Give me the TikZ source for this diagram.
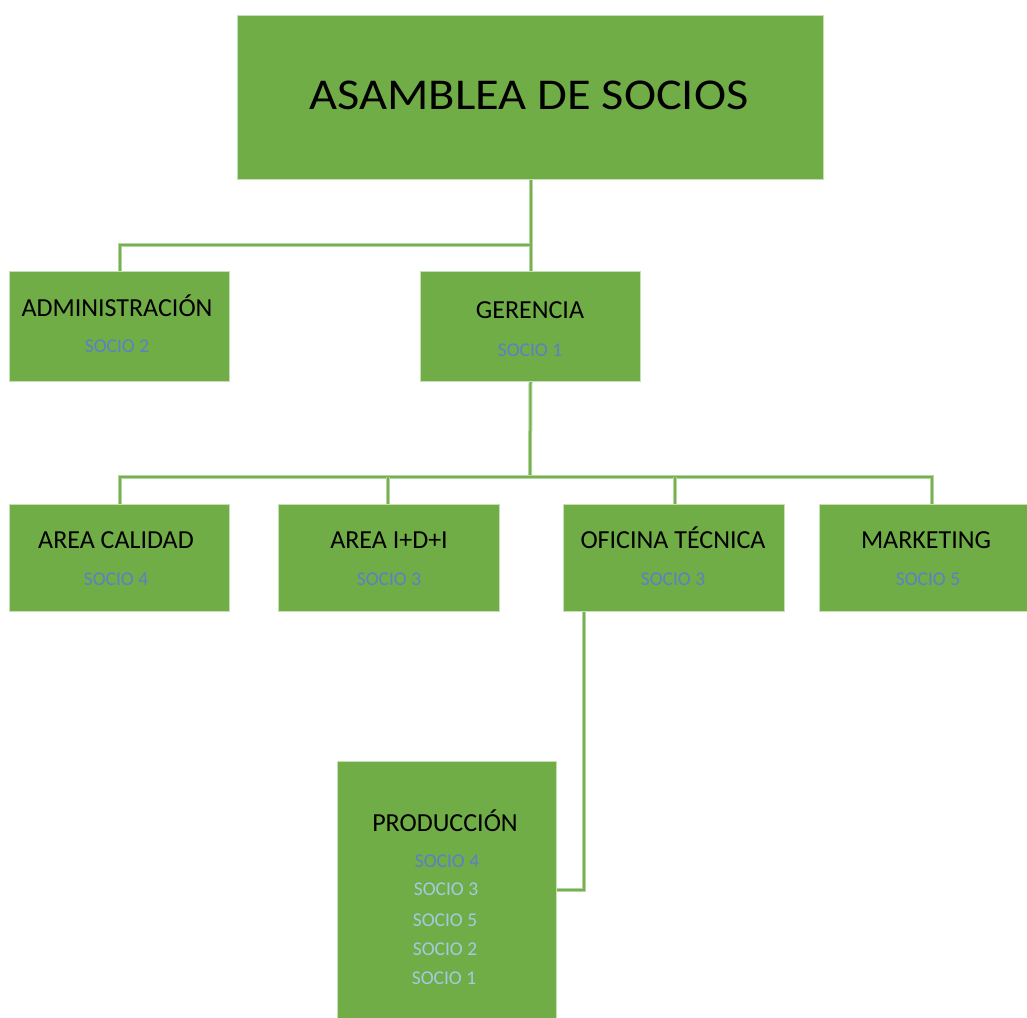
\documentclass[tikz,border=0pt]{standalone}
\usepackage{fontspec}
\setmainfont{Carlito}
\definecolor{boxgreen}{HTML}{70AD47}
\definecolor{boxedge}{HTML}{C5E0B4}
\definecolor{linegreen}{HTML}{78AF50}
\definecolor{linehalo}{HTML}{B5D6A0}
\definecolor{sociob}{HTML}{5B80C6}
\definecolor{sociol}{HTML}{A3CBE0}
\tikzset{
  box/.style={draw=boxedge, line width=1pt, fill=boxgreen, anchor=north west, inner sep=0pt},
  ttl/.style={font=\fontsize{26}{26}\selectfont, text=black, inner sep=0pt, anchor=base},
  soc/.style={font=\fontsize{19.5}{20}\selectfont, text=sociob, inner sep=0pt, anchor=base},
  socl/.style={font=\fontsize{19.5}{20}\selectfont, text=sociol, inner sep=0pt, anchor=base},
  conn/.style={draw=linehalo, line width=4pt, postaction={draw=linegreen, line width=2pt}},
}
\begin{document}
\begin{tikzpicture}[x=1pt,y=-1pt]
\useasboundingbox (0,0) rectangle (1027,1017);
% boxes
\node[box, minimum width=586pt, minimum height=164pt] (asm) at (237,15) {};
\node[box, minimum width=220pt, minimum height=110pt] (adm) at (9,271) {};
\node[box, minimum width=220pt, minimum height=110pt] (ger) at (420,271) {};
\node[box, minimum width=220pt, minimum height=107pt] (cal) at (9,504) {};
\node[box, minimum width=221pt, minimum height=107pt] (idi) at (278,504) {};
\node[box, minimum width=221pt, minimum height=107pt] (ofi) at (563,504) {};
\node[box, minimum width=210pt, minimum height=107pt] (mkt) at (819,504) {};
\node[box, minimum width=219pt, minimum height=262pt] (prd) at (337,761) {};
% connectors
\coordinate (j1) at (530,245);
\draw[conn] (asm.south -| ger.north) -- (ger.north);
\draw[conn] (adm.north) |- (j1);
\coordinate (j2) at (530,477);
\draw[conn] (ger.south) -- (j2);
\draw[conn] (cal.north) |- (j2);
\draw[conn] ([xshift=7pt]mkt.north) |- (j2);
\draw[conn] ([xshift=-1pt]idi.north) -- ([xshift=-1pt]idi.north |- j2);
\draw[conn] ([xshift=1pt]ofi.north) -- ([xshift=1pt]ofi.north |- j2);
\coordinate (j3) at (584,890);
\draw[conn] (ofi.south west) ++(21,0) -- (j3) -- (prd.east |- j3);
% texts
\node[font=\fontsize{44}{44}\selectfont, inner sep=0pt, anchor=base] (asmT) at (529,109) {\scalebox{1.1}[1]{ASAMBLEA DE SOCIOS}};
\node[ttl] (admT) at (117,316) {ADMINISTRACIÓN};
\node[soc] (admS) at (117,352) {SOCIO 2};
\node[ttl] (gerT) at (530,318) {GERENCIA};
\node[soc] (gerS) at (530,356) {SOCIO 1};
\node[ttl] (calT) at (116,548) {AREA CALIDAD};
\node[soc] (calS) at (116,585) {SOCIO 4};
\node[ttl] (idiT) at (389,548) {AREA I+D+I};
\node[soc] (idiS) at (389,585) {SOCIO 3};
\node[ttl] (ofiT) at (673,548) {OFICINA TÉCNICA};
\node[soc] (ofiS) at (673,585) {SOCIO 3};
\node[ttl] (mktT) at (926,548) {MARKETING};
\node[soc] (mktS) at (928,585) {SOCIO 5};
\node[ttl] (prdT) at (445,831) {PRODUCCIÓN};
\node[soc] (prdS4) at (447,867) {SOCIO 4};
\node[socl] (prdS3) at (446,895) {SOCIO 3};
\node[socl] (prdS5) at (445,926) {SOCIO 5};
\node[socl] (prdS2) at (445,955) {SOCIO 2};
\node[socl] (prdS1) at (444,984) {SOCIO 1};
\end{tikzpicture}
\end{document}
